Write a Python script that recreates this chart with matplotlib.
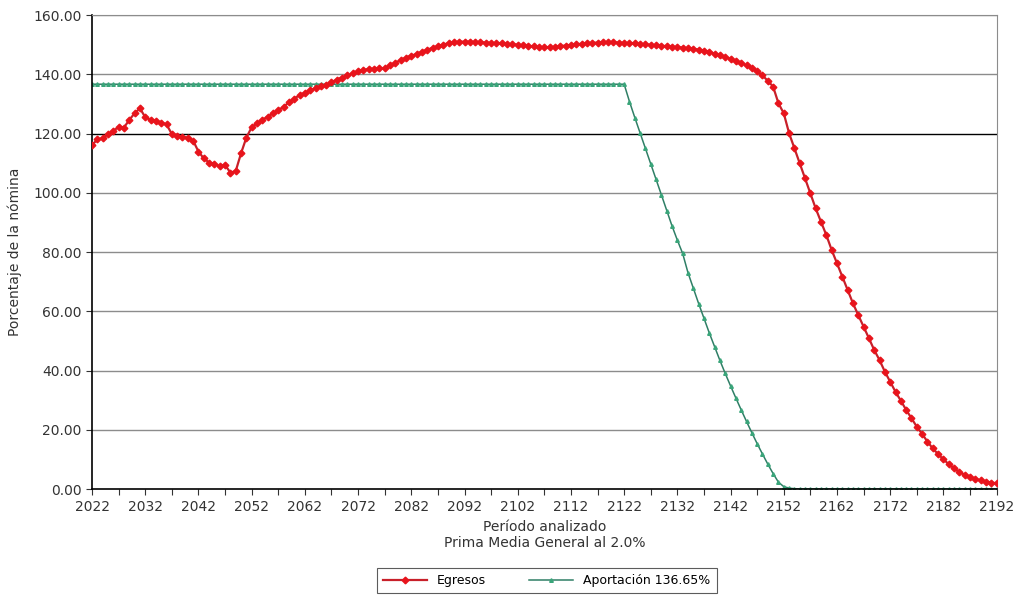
import matplotlib.pyplot as plt
import numpy as np

years = np.arange(2022, 2193)

egresos = [
    116.1, 118.0, 118.4, 119.8, 120.8, 122.3, 122.0, 124.6, 126.8, 128.5,
    125.5, 124.6, 124.3, 123.7, 123.1, 119.8, 119.2, 118.9, 118.6, 117.6,
    113.9, 111.6, 110.2, 109.7, 109.0, 109.4, 106.8, 107.3, 113.3, 118.6,
    122.1, 123.4, 124.6, 125.7, 126.8, 127.9, 129.0, 130.5, 131.8, 132.9,
    133.8, 134.6, 135.3, 135.9, 136.5, 137.3, 138.2, 138.9, 139.6, 140.3,
    141.0, 141.4, 141.8, 141.9, 142.0, 142.0, 143.1, 143.9, 144.8, 145.6,
    146.3, 146.8, 147.6, 148.3, 148.9, 149.5, 150.0, 150.5, 150.8, 151.0,
    151.0, 151.0, 150.9, 150.8, 150.7, 150.6, 150.5, 150.4, 150.3, 150.1,
    150.0, 149.8, 149.6, 149.4, 149.2, 149.1, 149.1, 149.3, 149.5, 149.7,
    149.9, 150.1, 150.3, 150.5, 150.6, 150.7, 150.8, 150.8, 150.8, 150.7,
    150.6, 150.5, 150.4, 150.2, 150.1, 149.9, 149.8, 149.6, 149.5, 149.3,
    149.2, 149.0, 148.8, 148.6, 148.3, 148.0, 147.5, 147.0, 146.4, 145.8,
    145.2, 144.5, 143.8, 143.0, 142.1, 141.0, 139.6, 137.8, 135.8, 130.2,
    126.8, 120.1, 115.0, 109.9, 104.9, 99.8, 94.7, 90.2, 85.7, 80.7,
    76.2, 71.7, 67.2, 62.7, 58.7, 54.8, 50.9, 46.9, 43.5, 39.6,
    36.2, 32.8, 29.8, 26.7, 23.9, 21.0, 18.6, 16.0, 13.7, 11.8,
    10.0, 8.4, 7.0, 5.7, 4.8, 4.0, 3.4, 2.9, 2.5, 2.2,
    1.9,
]

# aportacion: flat 2022-2122, decline 2123-2152, zero afterwards
aport_flat = [136.65] * 101
aport_baja = [
    130.8, 125.4, 120.2, 115.0, 109.8, 104.6, 99.3, 94.0, 88.8, 84.0,
    79.5, 73.0, 67.8, 62.6, 57.6, 52.7, 48.0, 43.4, 39.0, 34.8,
    30.7, 26.7, 22.8, 19.0, 15.3, 11.8, 8.4, 5.2, 2.3, 0.8,
]
aport_cola = [0.3, 0.1] + [0.0] * 38
aportacion = aport_flat + aport_baja + aport_cola

fig = plt.figure(figsize=(10.18, 5.96), dpi=100)
ax = fig.add_axes([0.0904, 0.1795, 0.8886, 0.7953])

for v in range(20, 161, 20):
    ax.axhline(v, color='black' if v == 120 else '#8c8c8c', lw=1.0, zorder=1)

ax.plot(years, egresos, color='#c8202a', lw=1.6, marker='D', ms=3.4,
        mfc='#e8141c', mec='#e8141c', label='Egresos', zorder=3)
ax.plot(years, aportacion, color='#2f7f66', lw=1.1, marker='^', ms=2.6,
        mfc='#3aa57a', mec='#3aa57a', label='Aportación 136.65%', zorder=2)

ax.set_xlim(2022, 2192)
ax.set_ylim(0, 160)
ax.set_xticks(np.arange(2022, 2193, 10))
ax.set_xticks(np.arange(2022, 2193, 5), minor=True)
ax.set_yticks(np.arange(0, 161, 20))
ax.set_yticklabels([f'{v:.2f}' for v in range(0, 161, 20)])
ax.tick_params(axis='both', which='both', direction='out', length=4,
               width=0.8, labelsize=10, colors='#333333')
ax.tick_params(axis='x', which='major', pad=4)

for s in ['top', 'right']:
    ax.spines[s].set_color('#8c8c8c')
for s in ['left', 'bottom']:
    ax.spines[s].set_color('black')
    ax.spines[s].set_linewidth(1.2)

ax.set_ylabel('Porcentaje de la nómina', fontsize=10, color='#333333', labelpad=8)
ax.set_xlabel('Período analizado\nPrima Media General al 2.0%', fontsize=10,
              color='#333333', labelpad=4)

leg = fig.legend(loc='upper center', bbox_to_anchor=(0.537, 0.047), ncol=2,
                 fontsize=9, frameon=True, fancybox=False, edgecolor='#333333',
                 handlelength=3.5, columnspacing=3.5, borderaxespad=0,
                 borderpad=0.5)
leg.get_frame().set_linewidth(0.8)

fig.savefig('out.png', dpi=100)
